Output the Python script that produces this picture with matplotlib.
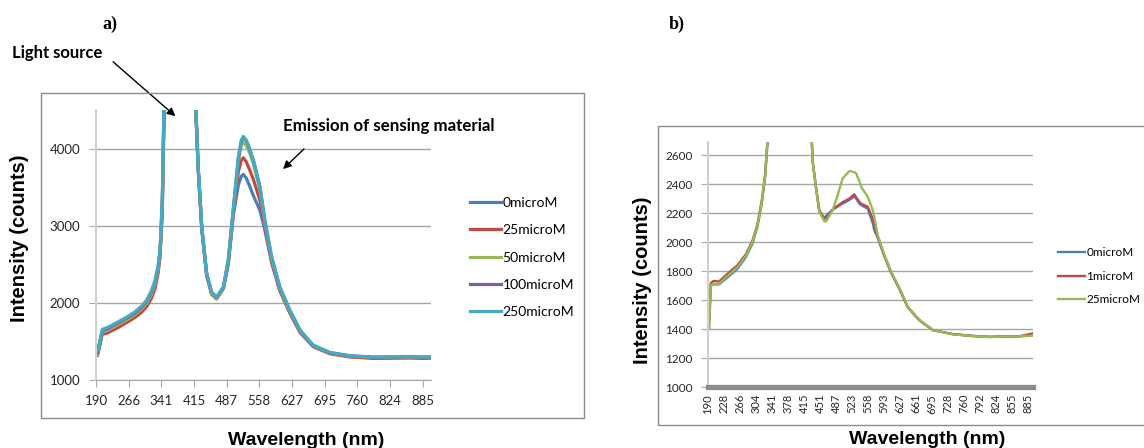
import numpy as np
import matplotlib
matplotlib.use('Agg')
import matplotlib.pyplot as plt
from matplotlib.patches import Rectangle

W, H = 1144, 448

# --- panel a: positions along the category axis (in tick units), tick labels
wl_ticks_a = ['190', '266', '341', '415', '487', '558', '627', '695', '760', '824', '885']
pos_a = [0, 0.05, 0.19, 0.35, 0.68, 1.0, 1.19, 1.4, 1.55, 1.7, 1.81, 1.9, 1.96, 2.03, 2.08,
         2.12, 2.55, 3.02, 3.06, 3.13, 3.24, 3.39, 3.54, 3.69, 3.9, 4.05, 4.2, 4.36, 4.45,
         4.51, 4.6, 4.7, 4.82, 5.02, 5.17, 5.38, 5.63, 5.94, 6.25, 6.65, 7.16, 7.78, 8.49,
         9.0, 9.61, 10.0, 10.26]
a_0 = [1380, 1330, 1620, 1640, 1715, 1790, 1843, 1918, 1990, 2110, 2245, 2425, 2625, 3250, 4440,
       5200, 14000, 5200, 4480, 3740, 2960, 2362, 2125, 2062, 2190, 2510, 3120, 3530, 3640,
       3665, 3620, 3520, 3390, 3200, 2950, 2520, 2160, 1870, 1625, 1440, 1348, 1305, 1290,
       1292, 1296, 1290, 1294]
a_25 = [1310, 1320, 1590, 1610, 1680, 1760, 1810, 1880, 1950, 2060, 2190, 2380, 2590, 3150, 4300,
        5000, 14000, 5000, 4450, 3720, 2950, 2350, 2110, 2050, 2180, 2500, 3120, 3700, 3850,
        3881, 3830, 3730, 3600, 3330, 2980, 2530, 2160, 1865, 1615, 1432, 1340, 1298, 1280,
        1282, 1285, 1280, 1283]
a_50 = [1400, 1330, 1625, 1645, 1720, 1795, 1848, 1922, 1995, 2115, 2250, 2430, 2630, 3260, 4450,
        5200, 14000, 5200, 4480, 3740, 2960, 2360, 2120, 2055, 2185, 2530, 3170, 3840, 4040,
        4083, 4040, 3950, 3800, 3470, 3040, 2570, 2185, 1885, 1632, 1442, 1350, 1308, 1292,
        1294, 1298, 1292, 1296]
a_100 = [1430, 1350, 1640, 1665, 1740, 1815, 1868, 1945, 2020, 2145, 2280, 2460, 2660, 3300, 4480,
         5200, 14000, 5200, 4500, 3760, 2983, 2378, 2138, 2072, 2200, 2545, 3190, 3870, 4095,
         4140, 4105, 4000, 3850, 3510, 3075, 2590, 2200, 1900, 1643, 1450, 1355, 1312, 1295,
         1297, 1302, 1295, 1299]
a_250 = [1450, 1360, 1656, 1680, 1755, 1830, 1884, 1960, 2035, 2160, 2294, 2480, 2682, 3329, 4493,
         5200, 14000, 5200, 4500, 3760, 2983, 2380, 2142, 2078, 2207, 2552, 3199, 3889, 4110,
         4157, 4110, 4000, 3846, 3500, 3070, 2595, 2207, 1905, 1647, 1453, 1358, 1315, 1298,
         1300, 1305, 1298, 1302]
labels_a = ['0microM', '25microM', '50microM', '100microM', '250microM']

# --- panel b
wl_ticks_b = ['190', '228', '266', '304', '341', '378', '415', '451', '487', '523', '558',
              '593', '627', '661', '695', '728', '760', '792', '824', '855', '885']
pos_b = [0, 0.08, 0.17, 0.33, 0.69, 1.21, 1.84, 2.36, 2.78, 3.09, 3.36, 3.57, 3.71, 3.8, 5.0,
         6.4, 6.54, 6.75, 6.95, 7.26, 7.37, 7.79, 8.1, 8.41, 8.83, 9.14, 9.25, 9.45, 9.56,
         9.98, 10.29, 10.39, 10.6, 11.02, 11.44, 11.96, 12.48, 13.21, 14.05, 15.3, 16.5,
         17.6, 18.5, 19.5, 20.3]
b_0 = [1500, 1450, 1700, 1708, 1708, 1755, 1815, 1895, 1990, 2105, 2265, 2450, 2670, 2900, 6000,
       2900, 2554, 2375, 2220, 2165, 2180, 2225, 2245, 2265, 2290, 2315, 2300, 2265, 2255,
       2230, 2130, 2080, 2030, 1900, 1788, 1675, 1550, 1460, 1392, 1364, 1352, 1345, 1348,
       1350, 1356]
b_1 = [1519, 1480, 1715, 1731, 1728, 1780, 1840, 1915, 2010, 2125, 2290, 2470, 2692, 2900, 6000,
       2900, 2554, 2370, 2215, 2160, 2165, 2222, 2250, 2275, 2300, 2329, 2310, 2278, 2265,
       2243, 2160, 2117, 2040, 1905, 1790, 1678, 1550, 1460, 1392, 1365, 1353, 1346, 1349,
       1351, 1370]
b_25 = [1430, 1400, 1703, 1712, 1712, 1765, 1825, 1905, 2000, 2115, 2278, 2462, 2692, 2900, 6000,
        2900, 2554, 2370, 2209, 2145, 2142, 2221, 2324, 2439, 2490, 2482, 2474, 2420, 2381,
        2312, 2221, 2170, 2048, 1910, 1795, 1681, 1554, 1462, 1393, 1363, 1352, 1345, 1348,
        1350, 1355]
labels_b = ['0microM', '1microM', '25microM']

colors = ['#4A7EBB', '#BE4B48', '#98B954', '#7D60A0', '#46AAC5']
tickfont = 'Lato'
boldfont = 'Liberation Sans'


def fx(x):
    return x / W


def fy(y):
    return 1 - y / H


fig = plt.figure(figsize=(W / 100, H / 100), dpi=100)

# рамки областей диаграмм (как в Excel)
fig.patches.append(Rectangle((fx(41), fy(418)), fx(583.5) - fx(41), fy(93) - fy(418),
                             transform=fig.transFigure, fill=False, ec='#8c8c8c', lw=1))
fig.patches.append(Rectangle((fx(657.6), fy(425)), fx(1150) - fx(657.6), fy(126) - fy(425),
                             transform=fig.transFigure, fill=False, ec='#8c8c8c', lw=1))

# ---- panel a
ax = fig.add_axes([fx(96), fy(380), fx(431) - fx(96), fy(110) - fy(380)])
for ys, lab, c in zip([a_0, a_25, a_50, a_100, a_250], labels_a, colors):
    ax.plot(pos_a, ys, color=c, lw=2.3, label=lab, solid_joinstyle='round')
ax.set_xlim(0, 10.26)
ax.set_ylim(1000, 4500)
ax.set_yticks([1000, 2000, 3000, 4000])
ax.set_xticks(range(len(wl_ticks_a)))
ax.set_xticklabels(wl_ticks_a)
ax.grid(axis='y', color='#a6a6a6', lw=1)
ax.set_axisbelow(True)
for s in ['top', 'right']:
    ax.spines[s].set_visible(False)
ax.spines['left'].set_color('#d0d0d0')
ax.spines['left'].set_linewidth(1.5)
ax.spines['bottom'].set_color('#a6a6a6')
ax.tick_params(axis='both', direction='out', length=5, color='#a6a6a6', labelsize=9.5,
               labelcolor='#262626')
ax.tick_params(axis='y', pad=6.5)
ax.tick_params(axis='x', pad=5.5)
for t in ax.get_xticklabels() + ax.get_yticklabels():
    t.set_fontfamily(tickfont)
ax.legend(loc='upper left', bbox_to_anchor=(fx(463), fy(190)), bbox_transform=fig.transFigure,
          frameon=False, borderpad=0, handlelength=2.25, handletextpad=0.1, labelspacing=1.1,
          prop={'family': tickfont, 'size': 10})

# ---- panel b
bx = fig.add_axes([fx(708), fy(387), fx(1033) - fx(708), fy(142) - fy(387)])
for ys, lab, c in zip([b_0, b_1, b_25], labels_b, colors[:3]):
    bx.plot(pos_b, ys, color=c, lw=1.7, label=lab, solid_joinstyle='round')
bx.set_xlim(0, 20.3)
bx.set_ylim(1000, 2690)
bx.set_yticks(range(1000, 2601, 200))
bx.set_xticks(range(len(wl_ticks_b)))
bx.set_xticklabels(wl_ticks_b, rotation=90)
bx.grid(axis='y', color='#a6a6a6', lw=1)
bx.set_axisbelow(True)
for s in ['top', 'right']:
    bx.spines[s].set_visible(False)
bx.spines['left'].set_color('#d0d0d0')
bx.spines['left'].set_linewidth(1.5)
bx.spines['bottom'].set_color('#8c8c8c')
bx.spines['bottom'].set_linewidth(3.8)
bx.tick_params(axis='y', direction='out', length=5, color='#a6a6a6', labelsize=8.5,
               labelcolor='#262626', pad=6)
bx.tick_params(axis='x', length=0, labelsize=8, labelcolor='#262626', pad=5)
for t in bx.get_xticklabels() + bx.get_yticklabels():
    t.set_fontfamily(tickfont)
bx.legend(loc='upper left', bbox_to_anchor=(fx(1052), fy(241)), bbox_transform=fig.transFigure,
          frameon=False, borderpad=0, handlelength=2.3, handletextpad=0.1, labelspacing=1.08,
          prop={'family': tickfont, 'size': 8.5})

# ---- axis titles and panel letters
fig.text(fx(19.6), fy(238), 'Intensity (counts)', rotation=90, ha='center', va='center',
         family=boldfont, weight='bold', size=14.5)
fig.text(fx(306), fy(440), 'Wavelength (nm)', ha='center', va='center',
         family=boldfont, weight='bold', size=14)
fig.text(fx(642), fy(280), 'Intensity (counts)', rotation=90, ha='center', va='center',
         family=boldfont, weight='bold', size=14.5)
fig.text(fx(927), fy(439), 'Wavelength (nm)', ha='center', va='center',
         family=boldfont, weight='bold', size=14)
fig.text(fx(110), fy(24), 'a)', ha='center', va='center', family='Liberation Serif',
         weight='bold', size=13)
fig.text(fx(677), fy(24), 'b)', ha='center', va='center', family='Liberation Serif',
         weight='bold', size=13)

# ---- annotations
fig.text(fx(12.5), fy(53), 'Light source', ha='left', va='center', family=tickfont,
         weight='bold', size=12)
fig.text(fx(283), fy(126), 'Emission of sensing material', ha='left', va='center',
         family=tickfont, weight='bold', size=12.2)
ax.annotate('', xy=(fx(177.5), fy(118)), xytext=(fx(111), fy(60)), xycoords='figure fraction',
            textcoords='figure fraction', annotation_clip=False,
            arrowprops=dict(arrowstyle='-|>', color='k', lw=1, mutation_scale=12))
ax.annotate('', xy=(fx(281), fy(171)), xytext=(fx(306), fy(147)), xycoords='figure fraction',
            textcoords='figure fraction', annotation_clip=False,
            arrowprops=dict(arrowstyle='-|>', color='k', lw=1, mutation_scale=12))

fig.savefig('out.png', dpi=100)
